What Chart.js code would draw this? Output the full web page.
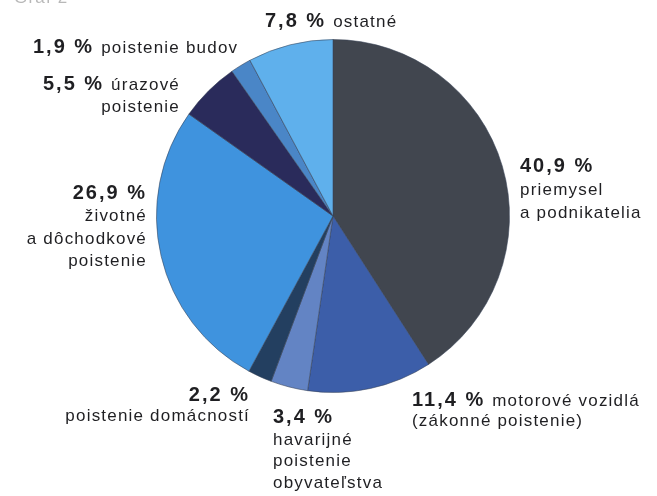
<!DOCTYPE html>
<html lang="sk">
<head>
<meta charset="utf-8">
<title>Štruktúra poistného</title>
<script src="https://cdn.jsdelivr.net/npm/chart.js@4/dist/chart.umd.min.js"></script>
<style>
  html, body { margin: 0; padding: 0; background: #ffffff; }
  #wrap { position: relative; width: 657px; height: 496px; overflow: hidden; }
  canvas { display: block; }
</style>
</head>
<body>
<div id="wrap"><canvas id="chart" width="657" height="496"></canvas></div>
<script>
// Slices in clockwise order from 12 o'clock
const categories = [
  'priemysel a podnikatelia',
  'motorové vozidlá (zákonné poistenie)',
  'havarijné poistenie obyvateľstva',
  'poistenie domácností',
  'životné a dôchodkové poistenie',
  'úrazové poistenie',
  'poistenie budov',
  'ostatné'
];
const shares = [40.9, 11.4, 3.4, 2.2, 26.9, 5.5, 1.9, 7.8];
const sliceColors = ['#41464f', '#3c5ea9', '#6384c4', '#233f60', '#3f93de', '#2a2b5b', '#4a86c7', '#5fb0ec'];

// Text shown next to each slice: words on the percentage line, then the following lines
const inlineText = ['', 'motorové vozidlá', '', '', '', 'úrazové', 'poistenie budov', 'ostatné'];
const extraLines = [
  ['priemysel', 'a podnikatelia'],
  ['(zákonné poistenie)'],
  ['havarijné', 'poistenie', 'obyvateľstva'],
  ['poistenie domácností'],
  ['životné', 'a dôchodkové', 'poistenie'],
  ['poistenie'],
  [],
  []
];

// Where each caption block sits (x, first baseline, alignment, line step)
const captionLayout = [
  { x: 520, y: 172, align: 'left',  step: 23 },
  { x: 412, y: 406, align: 'left',  step: 20 },
  { x: 273, y: 423, align: 'left',  step: 21.5 },
  { x: 250, y: 401, align: 'right', step: 20 },
  { x: 147, y: 199, align: 'right', step: 22.3 },
  { x: 180, y: 90,  align: 'right', step: 22 },
  { x: 33,  y: 53,  align: 'left',  step: 22 },
  { x: 265, y: 27,  align: 'left',  step: 22 }
];

const FONT = '"Liberation Sans", Arial, Helvetica, sans-serif';
const BOLD = 'bold 20px ' + FONT;
const REG = '17px ' + FONT;
const BOLD_SPACING = '2px';
const REG_SPACING = '1.2px';
const TEXT_COLOR = '#1f1f22';

function pctText(v) {
  return v.toFixed(1).replace('.', ',') + ' %';
}

function measure(ctx, text, font, spacing) {
  ctx.font = font;
  ctx.letterSpacing = spacing;
  return ctx.measureText(text).width;
}

function drawRun(ctx, text, x, y, font, spacing) {
  ctx.font = font;
  ctx.letterSpacing = spacing;
  ctx.fillText(text, x, y);
}

const captionPlugin = {
  id: 'sliceCaptions',
  afterDraw(chart) {
    const ctx = chart.ctx;
    ctx.save();
    ctx.fillStyle = TEXT_COLOR;
    ctx.textBaseline = 'alphabetic';
    ctx.textAlign = 'left';

    // cut-off heading at the very top edge
    ctx.fillStyle = '#b8b8b8';
    drawRun(ctx, 'Graf 2', 14, 3, REG, REG_SPACING);
    ctx.fillStyle = TEXT_COLOR;

    shares.forEach((v, i) => {
      const lay = captionLayout[i];
      const pct = pctText(v);
      const gap = 7;
      const wPct = measure(ctx, pct, BOLD, BOLD_SPACING);
      const wInline = inlineText[i] ? measure(ctx, inlineText[i], REG, REG_SPACING) : 0;
      const total = wPct + (inlineText[i] ? gap + wInline : 0);
      let x0 = lay.align === 'right' ? lay.x - total : lay.x;
      drawRun(ctx, pct, x0, lay.y, BOLD, BOLD_SPACING);
      if (inlineText[i]) {
        drawRun(ctx, inlineText[i], x0 + wPct + gap, lay.y, REG, REG_SPACING);
      }
      extraLines[i].forEach((line, k) => {
        const y = lay.y + lay.step * (k + 1);
        const w = measure(ctx, line, REG, REG_SPACING);
        const x = lay.align === 'right' ? lay.x - w : lay.x;
        drawRun(ctx, line, x, y, REG, REG_SPACING);
      });
    });
    ctx.restore();
  }
};

new Chart(document.getElementById('chart'), {
  type: 'pie',
  data: {
    labels: categories,
    datasets: [{
      data: shares,
      backgroundColor: sliceColors,
      borderColor: 'rgba(55,65,85,0.55)',
      borderWidth: 1
    }]
  },
  options: {
    responsive: false,
    animation: false,
    rotation: 0,
    layout: { padding: { left: 156, right: 147, top: 39, bottom: 103 } },
    plugins: {
      legend: { display: false },
      tooltip: { enabled: false }
    }
  },
  plugins: [captionPlugin]
});
</script>
</body>
</html>
